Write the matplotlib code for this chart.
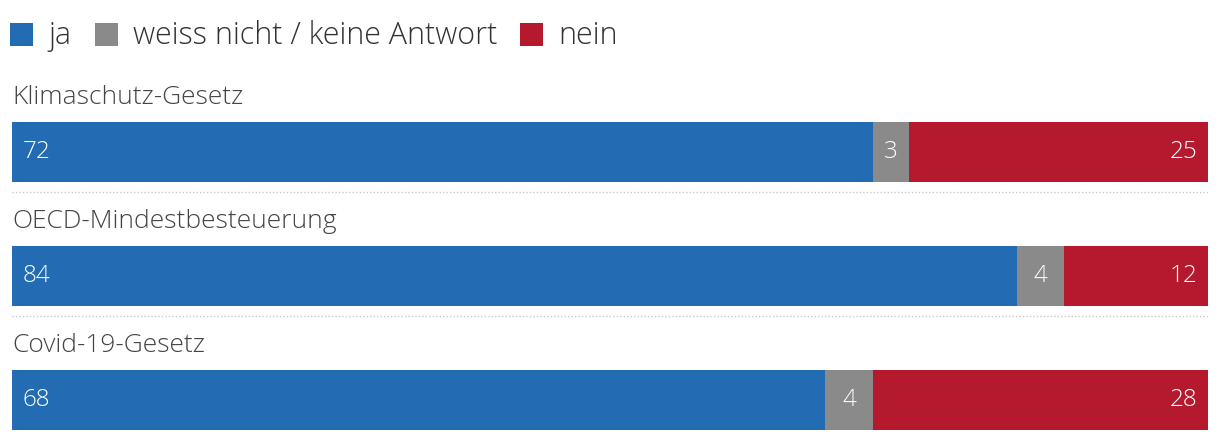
import matplotlib
matplotlib.use("Agg")
import matplotlib.pyplot as plt
from matplotlib.patches import Rectangle

categories = ["Klimaschutz-Gesetz", "OECD-Mindestbesteuerung", "Covid-19-Gesetz"]
ja = [72, 84, 68]
weiss_nicht = [3, 4, 4]
nein = [25, 12, 28]
series_names = ["ja", "weiss nicht / keine Antwort", "nein"]
colors = ["#236cb3", "#8a8a8a", "#b5192d"]

plt.rcParams['font.family'] = ['Open Sans', 'DejaVu Sans']

W, H = 1220, 440
fig = plt.figure(figsize=(W / 100, H / 100), dpi=100)
ax = fig.add_axes([12 / W, 0, 1196 / W, 1])
ax.set_xlim(0, 100)
ax.set_ylim(H, 0)
ax.axis("off")

bar_centers = [152, 276, 400]
bar_h = 60
value_font = dict(fontsize=17.5, fontweight="light")
cat_font = dict(fontsize=19, fontweight="light")

for i, cat in enumerate(categories):
    yc = bar_centers[i]
    vals = [ja[i], weiss_nicht[i], nein[i]]
    left = 0
    for j, v in enumerate(vals):
        ax.barh(yc, v, left=left, height=bar_h, color=colors[j], linewidth=0)
        left += v
    # value labels
    ax.annotate(str(ja[i]), (0, yc), xytext=(7.5, 0), textcoords="offset points",
                ha="left", va="center", color="white", **value_font)
    ax.text(ja[i] + weiss_nicht[i] / 2, yc, str(weiss_nicht[i]), ha="center",
            va="center", color="white", **value_font)
    ax.annotate(str(nein[i]), (100, yc), xytext=(-7.5, 0), textcoords="offset points",
                ha="right", va="center", color="white", **value_font)
    # category label
    ax.text(0, yc - 55, cat, ha="left", va="center", color="#444444", **cat_font)
    # dotted separator
    if i < len(categories) - 1:
        ax.plot([0, 100], [yc + 40, yc + 40], linestyle=(0, (1, 1.5)),
                color="#c8c8c8", linewidth=1)

# legend
leg_x = [10, 95, 520]
for j, name in enumerate(series_names):
    x0 = leg_x[j]
    fig.patches.append(Rectangle((x0 / W, 1 - 46 / H), 23 / W, 23 / H,
                                 transform=fig.transFigure, color=colors[j],
                                 linewidth=0))
    fig.text((x0 + 38) / W, 1 - 36 / H, name, ha="left", va="center",
             color="#333333", fontsize=22, fontweight="light")

fig.savefig("out.png", dpi=100)
